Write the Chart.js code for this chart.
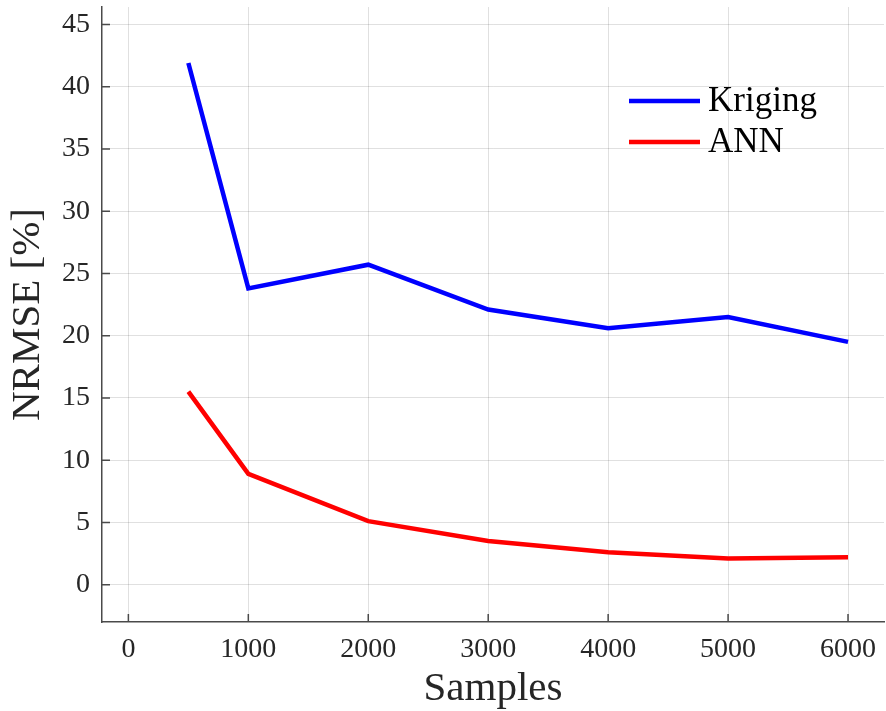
<!DOCTYPE html>
<html>
<head>
<meta charset="utf-8">
<script src="https://cdn.jsdelivr.net/npm/chart.js@4"></script>
<style>
    body { margin: 0; background: #fff; }
    #box { width: 886px; height: 711px; }
</style>
</head>
<body>
<div id="box"><canvas id="myChart" width="886" height="711"></canvas></div>
<script>
let samples = [500, 1000, 2000, 3000, 4000, 5000, 6000];
let kriging = [41.9, 23.8, 25.7, 22.1, 20.6, 21.5, 19.5];
let ann = [15.5, 8.9, 5.1, 3.5, 2.6, 2.1, 2.2];
let xTicks = [0, 1000, 2000, 3000, 4000, 5000, 6000];
let yTicks = [0, 5, 10, 15, 20, 25, 30, 35, 40, 45];

let FONT = "'Liberation Serif', 'DejaVu Serif', serif";
let AXIS_COLOR = '#4a4a4a';
let TEXT_COLOR = '#262626';


function toPoints(values) {
    let points = [];
    for (let i = 0; i < samples.length; i++) {
        points.push({ x: samples[i], y: values[i] });
    }
    return points;
}


// matlab style: tick marks point into the plot area
let innerTicks = {
    id: 'innerTicks',
    afterDatasetsDraw(chart) {
        let ctx = chart.ctx;
        let area = chart.chartArea;
        let xs = chart.scales.x;
        let ys = chart.scales.y;
        ctx.save();
        ctx.strokeStyle = AXIS_COLOR;
        ctx.lineWidth = 1.5;
        ctx.beginPath();
        xs.ticks.forEach(t => {
            let px = xs.getPixelForValue(t.value);
            ctx.moveTo(px, area.bottom);
            ctx.lineTo(px, area.bottom - 8);
        });
        ys.ticks.forEach(t => {
            let py = ys.getPixelForValue(t.value);
            ctx.moveTo(area.left, py);
            ctx.lineTo(area.left + 8, py);
        });
        ctx.stroke();
        ctx.restore();
    }
};


let insideLegend = {
    id: 'insideLegend',
    afterDraw(chart) {
        let ctx = chart.ctx;
        ctx.save();
        ctx.font = '35px ' + FONT;
        ctx.textBaseline = 'middle';
        ctx.fillStyle = '#000';
        chart.data.datasets.forEach((ds, i) => {
            let y = 101 + i * 41;
            ctx.strokeStyle = ds.borderColor;
            ctx.lineWidth = 4.5;
            ctx.beginPath();
            ctx.moveTo(629, y);
            ctx.lineTo(700, y);
            ctx.stroke();
            ctx.fillText(ds.label, 708, y + 1);
        });
        ctx.restore();
    }
};


function showChart() {
    let ctx = document.getElementById('myChart').getContext('2d');
    new Chart(ctx, {
        type: 'line',
        data: {
            datasets: [{
                label: 'Kriging',
                data: toPoints(kriging),
                borderColor: '#0000ff',
                borderWidth: 4.5,
                pointRadius: 0,
                tension: 0
            }, {
                label: 'ANN',
                data: toPoints(ann),
                borderColor: '#ff0000',
                borderWidth: 4.5,
                pointRadius: 0,
                tension: 0
            }]
        },
        options: {
            responsive: false,
            animation: false,
            layout: { padding: { top: 7, right: 2, left: 0, bottom: 0 } },
            plugins: {
                legend: { display: false },
                tooltip: { enabled: false }
            },
            scales: {
                x: {
                    type: 'linear',
                    min: -220,
                    max: 6300,
                    afterBuildTicks: scale => { scale.ticks = xTicks.map(v => ({ value: v })); },
                    afterFit: scale => {
                        scale.height = 89;
                        scale.paddingLeft = 0;
                        scale.paddingRight = 0;
                    },
                    grid: { color: 'rgba(0,0,0,0.12)', drawTicks: false },
                    border: { color: AXIS_COLOR, width: 1.5 },
                    ticks: {
                        padding: 11,
                        color: TEXT_COLOR,
                        font: { family: FONT, size: 28 },
                        maxRotation: 0,
                        callback: v => String(v)
                    },
                    title: {
                        display: true,
                        text: 'Samples',
                        color: TEXT_COLOR,
                        font: { family: FONT, size: 41, lineHeight: 1 },
                        padding: { top: 0, bottom: 1 }
                    }
                },
                y: {
                    min: -3,
                    max: 46.4,
                    afterBuildTicks: scale => { scale.ticks = yTicks.map(v => ({ value: v })); },
                    afterFit: scale => {
                        scale.width = 102;
                        scale.paddingTop = 0;
                        scale.paddingBottom = 0;
                    },
                    grid: { color: 'rgba(0,0,0,0.12)', drawTicks: false },
                    border: { color: AXIS_COLOR, width: 1.5 },
                    ticks: {
                        padding: 12,
                        color: TEXT_COLOR,
                        font: { family: FONT, size: 28 },
                        callback: v => String(v)
                    },
                    title: {
                        display: true,
                        text: 'NRMSE [%]',
                        color: TEXT_COLOR,
                        font: { family: FONT, size: 41, lineHeight: 1 },
                        padding: { top: 8, bottom: 0 }
                    }
                }
            }
        },
        plugins: [innerTicks, insideLegend]
    });
}

showChart();
</script>
</body>
</html>
